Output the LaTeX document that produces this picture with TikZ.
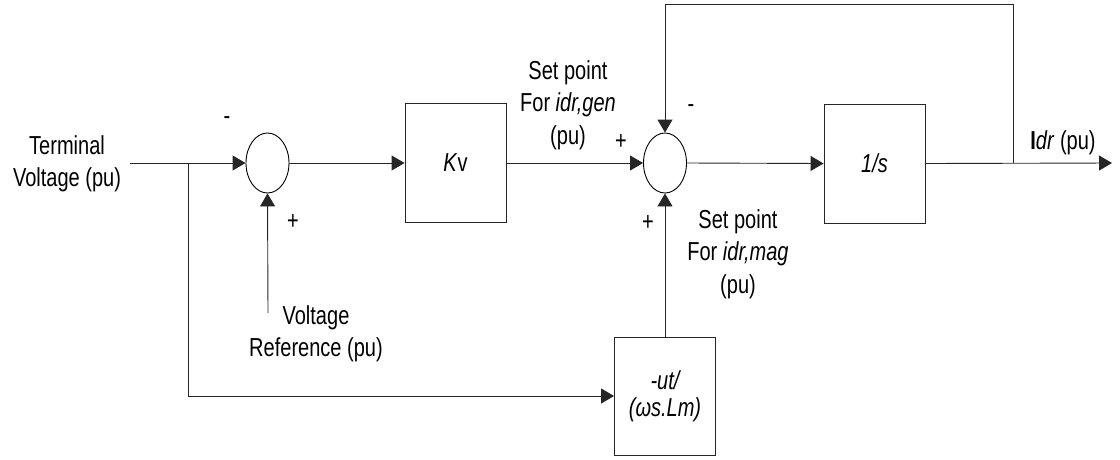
\documentclass[tikz,border=0pt]{standalone}
\usepackage{fontspec}
\setmainfont{Liberation Sans}[FakeStretch=0.77]
\usetikzlibrary{arrows.meta,shapes.geometric}
\tikzset{
  wire/.style={draw=black!85, line width=0.9pt},
  arr/.style={wire, -{Triangle[length=13pt,width=15pt]}},
  sumj/.style={draw=black, line width=0.9pt, ellipse, minimum width=43pt, minimum height=60pt, inner sep=0pt},
  blk/.style={draw=black!85, line width=0.9pt, rectangle, minimum width=101pt, minimum height=119pt, inner sep=0pt, align=center},
  lbl/.style={align=center, inner sep=0pt},
  sgn/.style={inner sep=0pt}
}
\begin{document}
\begin{tikzpicture}[x=1pt,y=-1pt,font=\fontsize{26}{32.5}\selectfont]
\useasboundingbox (0,0) rectangle (1120,459);
% blocks
\node[sumj] (s1) at (267.5,163) {};
\node[blk] (kv) at (455.5,163) {\textit{K}v};
\node[sumj] (s2) at (665,163) {};
\node[blk] (int) at (874.5,163.5) {\textit{1/s}};
\node[blk, minimum height=118pt, font=\fontsize{26}{27}\selectfont\itshape] (mag) at (665,396) {-ut/\\(ωs.Lm)};
% coordinates
\coordinate (in) at (130,163);
\coordinate (br) at (188,163);
\coordinate (vref) at (268,313);
\coordinate (fb) at (1013,163);
\coordinate (tr) at (1013,4);
\coordinate (tl) at (665,4);
\coordinate (out) at (1112,163);
% connectors
\draw[arr] (in) -- (s1.west);
\draw[arr] (br) |- (mag.west);
\draw[arr] (vref) -- (s1.south);
\draw[arr] (s1.east) -- (kv.west);
\draw[arr] (kv.east) -- (s2.west);
\draw[arr] (mag.north) -- (s2.south);
\draw[arr] (s2.east) -- (int.west);
\draw[arr] (int.east) -- (out);
\draw[arr] (fb) -- (tr) -- (tl) -- (s2.north);
% labels
\node[lbl] (tv) at (67,164) {Terminal\\Voltage (pu)};
\node[lbl] (vr) at (316,334) {Voltage\\Reference (pu)};
\node[lbl] (spg) at (568,105) {Set point\\For \textit{idr,gen}\\(pu)};
\node[lbl] (spm) at (738,254) {Set point\\For \textit{idr,mag}\\(pu)};
\node[lbl] (idr) at (1063,143) {\textbf{I}\textit{dr} (pu)};
% signs
\node[sgn] (m1) at (227,121) {-};
\node[sgn] (p1) at (293,222) {+};
\node[sgn] (p2) at (621,142) {+};
\node[sgn] (m2) at (691,109) {-};
\node[sgn] (p3) at (648,223) {+};
\end{tikzpicture}
\end{document}
